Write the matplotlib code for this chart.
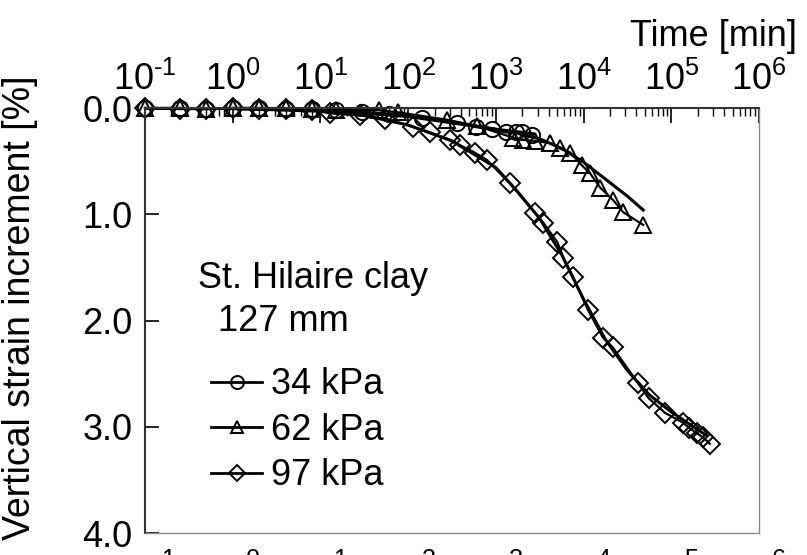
import matplotlib
matplotlib.use('Agg')
import matplotlib.pyplot as plt
from matplotlib.ticker import LogLocator, FormatStrFormatter, NullFormatter, FuncFormatter
import numpy as np

plt.rcParams['font.family'] = ['Liberation Sans', 'DejaVu Sans']
plt.rcParams['mathtext.fontset'] = 'custom'
plt.rcParams['mathtext.rm'] = 'Liberation Sans'
plt.rcParams['mathtext.it'] = 'Liberation Sans:italic'
plt.rcParams['mathtext.bf'] = 'Liberation Sans:bold'

# measured points, time [min] vs strain increment [%]
t_34 = [0.1, 0.25, 0.5, 1, 2, 4, 8, 15, 30, 60, 145, 360, 600, 900, 1300, 1700, 2000, 2600]
s_34 = [0.0, 0.0, 0.01, 0.0, 0.0, 0.01, 0.01, 0.02, 0.04, 0.06, 0.09, 0.14, 0.18, 0.20, 0.23, 0.23, 0.23, 0.25]

t_62 = [0.1, 0.25, 0.5, 1, 2, 4, 8, 15, 46, 76, 275, 617, 1585, 2040, 2820, 4170, 5370,
        7080, 9550, 11750, 15500, 21900, 28200, 47900]
s_62 = [0.0, 0.0, 0.01, 0.0, 0.0, 0.0, 0.01, 0.02, 0.02, 0.04, 0.11, 0.17, 0.28, 0.30, 0.31,
        0.33, 0.38, 0.42, 0.54, 0.61, 0.75, 0.87, 0.98, 1.10]

t_97 = [0.1, 0.25, 0.5, 1, 2, 4, 8, 13, 28, 55, 115, 178, 302, 389, 575, 794, 1445, 2820,
        3470, 5010, 5890, 7590, 11200, 16600, 21400, 41700, 55000, 85100, 135000, 160000,
        195000, 230000, 275000]
s_97 = [0.0, 0.01, 0.01, 0.0, 0.01, 0.01, 0.02, 0.05, 0.07, 0.10, 0.18, 0.23, 0.30, 0.35,
        0.42, 0.49, 0.71, 0.99, 1.08, 1.26, 1.41, 1.59, 1.90, 2.16, 2.25, 2.59, 2.73, 2.87,
        2.96, 3.01, 3.06, 3.10, 3.16]

# fitted curves
tf_34 = [0.1, 1, 10, 100, 316, 1000, 2600]
sf_34 = [0.0, 0.005, 0.02, 0.08, 0.14, 0.20, 0.24]

tf_62 = [0.1, 1, 10, 100, 316, 1000, 1780, 3160, 5620, 10000, 17800, 31600, 47900]
sf_62 = [0.0, 0.005, 0.01, 0.07, 0.13, 0.20, 0.24, 0.29, 0.38, 0.51, 0.67, 0.83, 0.96]

tf_97 = [0.1, 1, 10, 31.6, 100, 316, 1000, 1780, 3160, 5620, 10000, 17800, 31600,
         56200, 100000, 178000, 251000]
sf_97 = [0.0, 0.005, 0.03, 0.07, 0.16, 0.31, 0.56, 0.79, 1.04, 1.38, 1.80, 2.18, 2.47,
         2.70, 2.86, 3.00, 3.08]

fig = plt.figure(figsize=(8.07, 5.55), dpi=100)
ax = fig.add_axes([0.1797, 0.0396, 0.7608, 0.7658])

mk = dict(color='black', lw=1.6, markerfacecolor='none', markeredgecolor='black',
          markeredgewidth=1.4, clip_on=False)
ax.plot(t_34, s_34, marker='o', markersize=11, label='34 kPa', **mk)
ax.plot(t_62, s_62, marker='^', markersize=11, label='62 kPa', **mk)
ax.plot(t_97, s_97, marker='D', markersize=10, label='97 kPa', **mk)

ax.plot(tf_34, sf_34, color='black', lw=2.2)
ax.plot(tf_62, sf_62, color='black', lw=2.2)
ax.plot(tf_97, sf_97, color='black', lw=2.2)


def pow_label(v, pos):
    e = int(round(np.log10(v)))
    if e < 0:
        return r'$10^{\text{-%d}}$' % (-e)
    return r'$10^{%d}$' % e


ax.set_xscale('log')
ax.set_xlim(0.1, 1e6)
ax.set_ylim(4.0, 0.0)
ax.set_yticks([0, 1, 2, 3, 4])
ax.yaxis.set_major_formatter(FormatStrFormatter('%.1f'))
ax.xaxis.set_major_locator(LogLocator(base=10, numticks=20))
ax.xaxis.set_major_formatter(FuncFormatter(pow_label))
ax.xaxis.set_minor_locator(LogLocator(base=10, subs=range(2, 10), numticks=20))
ax.xaxis.set_minor_formatter(NullFormatter())

ax.tick_params(axis='x', which='major', top=True, bottom=False, labeltop=True,
               labelbottom=True, direction='in', length=11, width=1.2,
               labelsize=26, pad=7)
ax.tick_params(axis='x', which='minor', top=True, bottom=False, direction='in',
               length=6, width=1.0)
ax.tick_params(axis='y', direction='in', length=10, width=1.2, labelsize=26, pad=9)

for side in ['top', 'left']:
    ax.spines[side].set_linewidth(1.5)
    ax.spines[side].set_color('#333333')
for side in ['bottom', 'right']:
    ax.spines[side].set_linewidth(1.0)
    ax.spines[side].set_color('#888888')

ax.set_ylabel('Vertical strain increment [%]', fontsize=27)
ax.yaxis.set_label_coords(-0.174, 0.53)
fig.text(0.988, 0.935, 'Time [min]', fontsize=26, ha='right', va='center')

fig.text(0.245, 0.499, 'St. Hilaire clay', fontsize=26, ha='left', va='center')
fig.text(0.27, 0.42, '127 mm', fontsize=26, ha='left', va='center')

leg = ax.legend(loc='upper left', bbox_to_anchor=(0.262, 0.338),
                bbox_transform=fig.transFigure, frameon=False, fontsize=26,
                handlelength=1.4, handletextpad=0.25, labelspacing=0.29,
                borderpad=0, borderaxespad=0, markerscale=0.85)
for line in leg.get_lines():
    line.set_linewidth(2.0)

# bottom tick labels sit mostly below the figure edge, as in the source figure
for t in ax.xaxis.get_major_ticks():
    t.label1.set_y(-0.025)

fig.savefig('out.png', dpi=100)
